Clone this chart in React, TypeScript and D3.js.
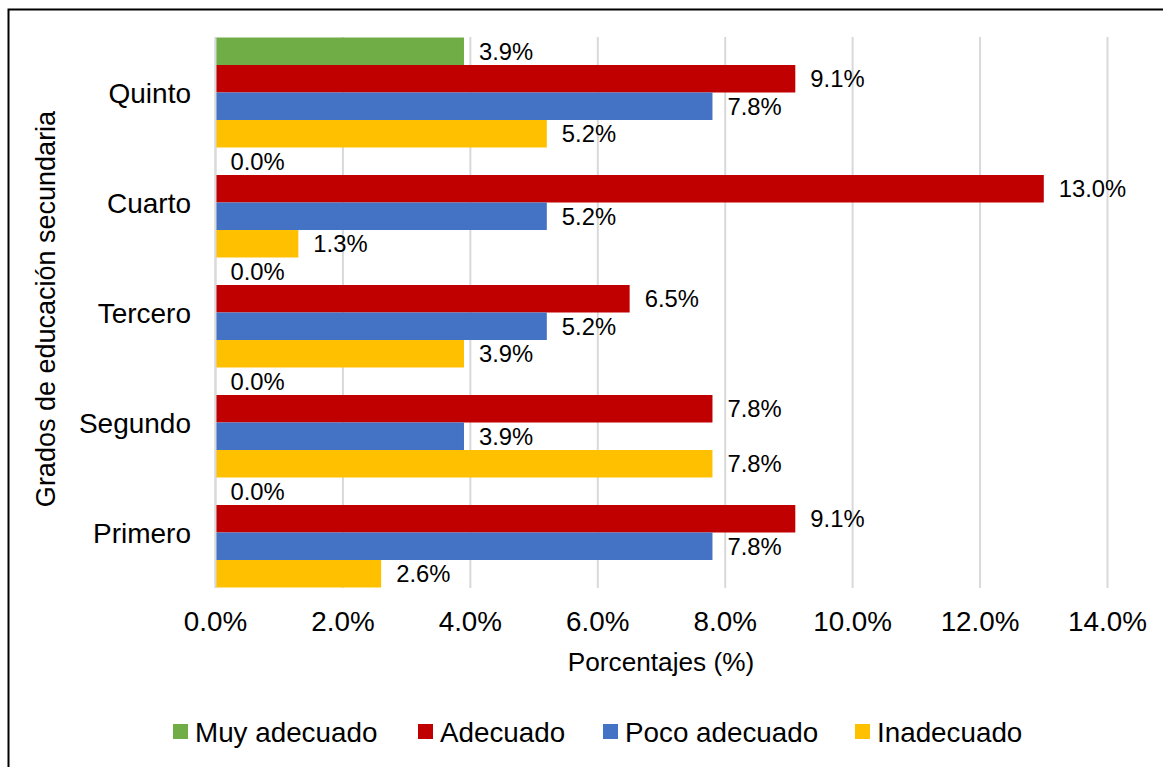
import React from "react";
import * as d3 from "d3";

const categories = ["Quinto", "Cuarto", "Tercero", "Segundo", "Primero"];
const seriesNames = ["Muy adecuado", "Adecuado", "Poco adecuado", "Inadecuado"];
const seriesColors = ["#70AD47", "#C00000", "#4472C4", "#FFC000"];
const muyAdecuado = [3.9, 0, 0, 0, 0];
const adecuado = [9.1, 13.0, 6.5, 7.8, 9.1];
const pocoAdecuado = [7.8, 5.2, 5.2, 3.9, 7.8];
const inadecuado = [5.2, 1.3, 3.9, 7.8, 2.6];
const xTicks = [0, 2, 4, 6, 8, 10, 12, 14];

const seriesValues = [muyAdecuado, adecuado, pocoAdecuado, inadecuado];

const W = 1163;
const H = 767;
const FONT = "Arial, 'Liberation Sans', sans-serif";

export default function App() {
  const x = d3.scaleLinear().domain([0, 14]).range([215.5, 1107.5]);
  const y0 = d3.scaleBand<string>().domain(categories).range([37.5, 587.5]).padding(0);
  const y1 = d3
    .scaleBand<string>()
    .domain(seriesNames)
    .range([0, y0.bandwidth()])
    .padding(0);

  const legendX = [173, 418, 603, 855];

  return (
    <svg
      width={W}
      height={H}
      style={{ position: "absolute", left: 0, top: 0, background: "#fff" }}
      fontFamily={FONT}
    >
      <rect x={0} y={0} width={W} height={H} fill="#fff" />
      {/* frame */}
      <rect x={8.5} y={9.5} width={1300} height={900} fill="none" stroke="#000" strokeWidth={2} />

      {/* gridlines */}
      {xTicks.map((t) => (
        <line
          key={"g" + t}
          x1={x(t)}
          x2={x(t)}
          y1={37}
          y2={588}
          stroke="#D9D9D9"
          strokeWidth={2}
        />
      ))}

      {/* bars */}
      {categories.map((c, ci) =>
        seriesNames.map((s, si) => {
          const v = seriesValues[si][ci];
          const yy = (y0(c) as number) + (y1(s) as number);
          const bh = y1.bandwidth();
          return (
            <g key={c + s}>
              {v > 0 && (
                <rect
                  x={x(0)}
                  y={yy}
                  width={x(v) - x(0)}
                  height={bh}
                  fill={seriesColors[si]}
                />
              )}
              <text
                x={x(v) + 15}
                y={yy + bh / 2}
                dy="0.36em"
                fontSize={23.8}
                fill="#000"
              >
                {v.toFixed(1) + "%"}
              </text>
            </g>
          );
        })
      )}

      {/* y axis line */}
      <line x1={x(0)} x2={x(0)} y1={37} y2={588} stroke="#D9D9D9" strokeWidth={2} />

      {/* category labels */}
      {categories.map((c) => (
        <text
          key={"c" + c}
          x={191}
          y={(y0(c) as number) + y0.bandwidth() / 2}
          dy="0.36em"
          textAnchor="end"
          fontSize={28}
          fill="#000"
        >
          {c}
        </text>
      ))}

      {/* x tick labels */}
      {xTicks.map((t) => (
        <text
          key={"t" + t}
          x={x(t)}
          y={621}
          dy="0.36em"
          textAnchor="middle"
          fontSize={27.8}
          fill="#000"
        >
          {t.toFixed(1) + "%"}
        </text>
      ))}

      {/* axis titles */}
      <text x={661} y={662} dy="0.36em" textAnchor="middle" fontSize={26.2} fill="#000">
        Porcentajes (%)
      </text>
      <text
        transform={`translate(45, 309) rotate(-90)`}
        dy="0.36em"
        textAnchor="middle"
        fontSize={27}
        fill="#000"
      >
        Grados de educación secundaria
      </text>

      {/* legend */}
      {seriesNames.map((s, i) => (
        <g key={"l" + s}>
          <rect x={legendX[i]} y={724} width={15} height={15} fill={seriesColors[i]} />
          <text x={legendX[i] + 22} y={731.5} dy="0.36em" fontSize={27.8} fill="#000">
            {s}
          </text>
        </g>
      ))}
    </svg>
  );
}
